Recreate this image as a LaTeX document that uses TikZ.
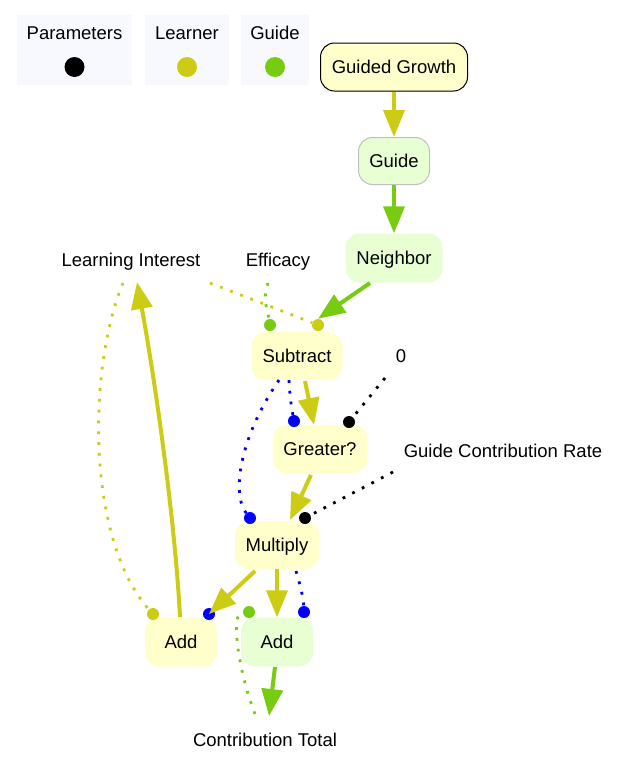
\documentclass[tikz,border=0pt]{standalone}
\usepackage{fontspec}
\setmainfont{Liberation Sans}
\usetikzlibrary{arrows.meta,calc}
\definecolor{lrn}{HTML}{CCCC14}
\definecolor{gd}{HTML}{77CC11}
\definecolor{lyel}{HTML}{FFFFCC}
\definecolor{lgrn}{HTML}{E8FFD4}
\definecolor{legbg}{HTML}{F8F9FE}
\begin{document}
\begin{tikzpicture}[x=1pt,y=-1pt, font=\fontsize{18.5}{22}\selectfont,
 box/.style={rounded corners=14pt, minimum height=48pt, inner sep=0pt, text height=13pt, text depth=0pt},
 ybox/.style={box, fill=lyel},
 gbox/.style={box, fill=lgrn},
 lbl/.style={inner sep=2pt, text height=13pt, text depth=0pt},
 legbox/.style={fill=legbg, minimum height=70pt, inner sep=0pt},
 legdot/.style={circle, minimum size=20pt, inner sep=0pt},
 dotn/.style={circle, minimum size=12pt, inner sep=0pt},
 flow/.style={line width=4pt, -{Triangle[length=27pt,width=21pt]}},
 dep/.style={line width=2.8pt, dash pattern=on 2.8pt off 8pt},
]
\useasboundingbox (0,0) rectangle (620,769);
% legend
\node[legbox, minimum width=115pt] (legP) at (74.5,50) {};
\node[legbox, minimum width=84pt] (legL) at (187,50) {};
\node[legbox, minimum width=68pt] (legG) at (275,50) {};
\node[lbl] (legPt) at (74.5,33) {Parameters};
\node[lbl] (legLt) at (187,33) {Learner};
\node[lbl] (legGt) at (275,33) {Guide};
\node[legdot, fill=black] (legPd) at (74.5,67) {};
\node[legdot, fill=lrn] (legLd) at (187,67) {};
\node[legdot, fill=gd] (legGd) at (275,67) {};
% nodes
\node[ybox, draw=black, line width=1pt, minimum width=147pt] (gg) at (394,67) {Guided Growth};
\node[gbox, draw=black!25, line width=1pt, minimum width=71pt, minimum height=47pt] (guide) at (394,161) {Guide};
\node[gbox, minimum width=97pt, minimum height=49pt] (nb) at (394,258) {Neighbor};
\node[lbl] (li) at (131,260) {Learning Interest};
\node[lbl] (ef) at (278,260) {Efficacy};
\node[ybox, minimum width=91pt] (sub) at (297,356) {Subtract};
\node[lbl] (zero) at (401,356) {0};
\node[ybox, minimum width=95pt] (gt) at (320,449) {Greater?};
\node[lbl] (gcr) at (503,451) {Guide Contribution Rate};
\node[ybox, minimum width=84pt] (mul) at (277,545) {Multiply};
\node[ybox, minimum width=72pt, minimum height=49pt] (addl) at (181,642) {Add};
\node[gbox, minimum width=72pt, minimum height=49pt] (addr) at (277,642) {Add};
\node[lbl] (ct) at (265,740) {Contribution Total};
% port dots
\node[dotn, fill=gd] (dsubg) at (270,325) {};
\node[dotn, fill=lrn] (dsuby) at (318,325) {};
\node[dotn, fill=blue] (dgtb) at (294,421) {};
\node[dotn, fill=black] (dgtk) at (349,422) {};
\node[dotn, fill=blue] (dmulb) at (250,518) {};
\node[dotn, fill=black] (dmulk) at (305,518) {};
\node[dotn, fill=lrn] (daddly) at (153,614) {};
\node[dotn, fill=blue] (daddlb) at (209,614) {};
\node[dotn, fill=gd] (daddrg) at (249,612) {};
\node[dotn, fill=blue] (daddrb) at (304,612) {};
% flows
\draw[flow, lrn] (gg) -- (guide);
\draw[flow, gd] (guide) -- (nb);
\draw[flow, gd] ($(nb)+(-24,25)$) -- (dsuby.north);
\draw[flow, lrn] ($(sub)+(8,25)$) -- ($(gt)+(-6,-24)$);
\draw[flow, lrn] ($(gt)+(-9,26)$) -- ($(mul)+(13,-25)$);
\draw[flow, lrn] ($(mul)+(-22,26)$) -- (daddlb.center);
\draw[flow, lrn] (mul) -- (addr);
\draw[flow, gd] ($(addr)+(-2,25)$) -- ($(ct)+(4,-24)$);
\draw[flow, lrn] ($(addl)+(-1,-25)$) .. controls (175,520) and (155,380) .. ($(li)+(6,22)$);
% dependencies
\draw[dep, gd] ($(ef)+(-10,23)$) .. controls ($(ef)+(-16,40)$) and ($(ef)+(-10,52)$) .. (dsubg);
\draw[dep, lrn] ($(li)+(79,23)$) -- (dsuby);
\draw[dep, blue] ($(sub)+(-8,24)$) .. controls (290,400) and (292,410) .. (dgtb);
\draw[dep, blue] ($(sub)+(-18,24)$) .. controls (238,440) and (232,495) .. (dmulb);
\draw[dep, black] ($(zero)+(-16,22)$) -- (dgtk);
\draw[dep, black] ($(gcr)+(-110,21)$) -- (dmulk);
\draw[dep, blue] ($(mul)+(19,26)$) .. controls (300,585) and (303,595) .. (daddrb);
\draw[dep, gd] ($(ct)+(-10,-26)$) .. controls (238,670) and (230,612) .. (daddrg.west);
\draw[dep, lrn] ($(li)+(-8,23)$) .. controls (87,370) and (87,540) .. (daddly);
\end{tikzpicture}
\end{document}
